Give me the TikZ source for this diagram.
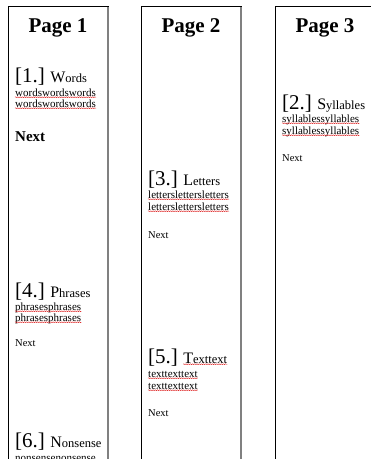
\documentclass[tikz,border=0pt]{standalone}
\usepackage{fontspec}
\setmainfont{Liberation Serif}
\usetikzlibrary{decorations.pathmorphing}
\tikzset{
  page/.style={draw=black, line width=0.8pt},
  pageshadow/.style={draw=black!50, line width=1.6pt},
  title/.style={font=\fontsize{21}{21}\selectfont\bfseries, anchor=base},
  num/.style={anchor=base west, inner sep=0pt, font=\fontsize{21}{21}\selectfont},
  word/.style={anchor=base west, inner sep=0pt},
  body/.style={anchor=base west, inner sep=0pt, font=\fontsize{11}{11}\selectfont},
  nextb/.style={anchor=base west, inner sep=0pt, font=\fontsize{15}{15}\selectfont\bfseries},
  nexts/.style={anchor=base west, inner sep=0pt, font=\fontsize{10.5}{10.5}\selectfont},
  squig/.style={draw=red!85!black, line width=0.35pt, decorate, decoration={snake, segment length=2.2pt, amplitude=0.45pt}}
}
\newcommand{\wrd}[2]{{\fontsize{16}{16}\selectfont #1}{\fontsize{12.5}{12.5}\selectfont #2}}
\newcommand{\sq}[1]{\draw[squig] ([yshift=-1.2pt]#1.base west) -- ([yshift=-1.2pt]#1.base east);}
\begin{document}
\begin{tikzpicture}[x=1pt,y=-1pt]
\useasboundingbox (0,0) rectangle (371,459);
\clip (0,0) rectangle (371,459);
% pages
\draw[page] (8,480) -- (8,6) -- (108,6) -- (108,480);
\draw[pageshadow] (108,7) -- (108,480);
\draw[page] (141,480) -- (141,6) -- (241,6) -- (241,480);
\draw[pageshadow] (241,7) -- (241,480);
\draw[page] (275,480) -- (275,6) -- (380,6);
% titles
\node[title] (t1) at (58,32) {Page 1};
\node[title] (t2) at (191,32) {Page 2};
\node[title] (t3) at (325,32) {Page 3};
% Page 1 items
\node[num] (h1) at (15,82) {[1.]};
\node[word] (h1w) at ([xshift=5pt]h1.base east) {\wrd{W}{ords}};
\node[body] (w1) at (15,96) {wordswordswords};
\node[body] (w2) at (15,107) {wordswordswords};
\sq{w1} \sq{w2}
\node[nextb] (n1) at (15,141) {Next};
\node[num] (h4) at (15,297) {[4.]};
\node[word] (h4w) at ([xshift=5pt]h4.base east) {\wrd{P}{hrases}};
\node[body] (p1) at (15,310) {phrasesphrases};
\node[body] (p2) at (15,321) {phrasesphrases};
\sq{p1} \sq{p2}
\node[nexts] (n4) at (15,346) {Next};
\node[num] (h6) at (15,447) {[6.]};
\node[word] (h6w) at ([xshift=5pt]h6.base east) {\wrd{N}{onsense}};
\node[body] (s1) at (15,461) {nonsensenonsense};
% Page 2 items
\node[num] (h3) at (148,185) {[3.]};
\node[word] (h3w) at ([xshift=5pt]h3.base east) {\wrd{L}{etters}};
\node[body] (l1) at (148,198) {letterslettersletters};
\node[body] (l2) at (148,210) {letterslettersletters};
\sq{l1} \sq{l2}
\node[nexts] (n3) at (148,238) {Next};
\node[num] (h5) at (148,363) {[5.]};
\node[word] (h5w) at ([xshift=5pt]h5.base east) {\wrd{T}{exttext}};
\node[body] (x1) at (148,377) {texttexttext};
\node[body] (x2) at (148,389) {texttexttext};
\sq{h5w} \sq{x1} \sq{x2}
\node[nexts] (n5) at (148,416) {Next};
% Page 3 items
\node[num] (h2) at (282,109) {[2.]};
\node[word] (h2w) at ([xshift=5pt]h2.base east) {\wrd{S}{yllables}};
\node[body] (y1) at (282,122) {syllablessyllables};
\node[body] (y2) at (282,134) {syllablessyllables};
\sq{y1} \sq{y2}
\node[nexts] (n2) at (282,161) {Next};
\end{tikzpicture}
\end{document}
